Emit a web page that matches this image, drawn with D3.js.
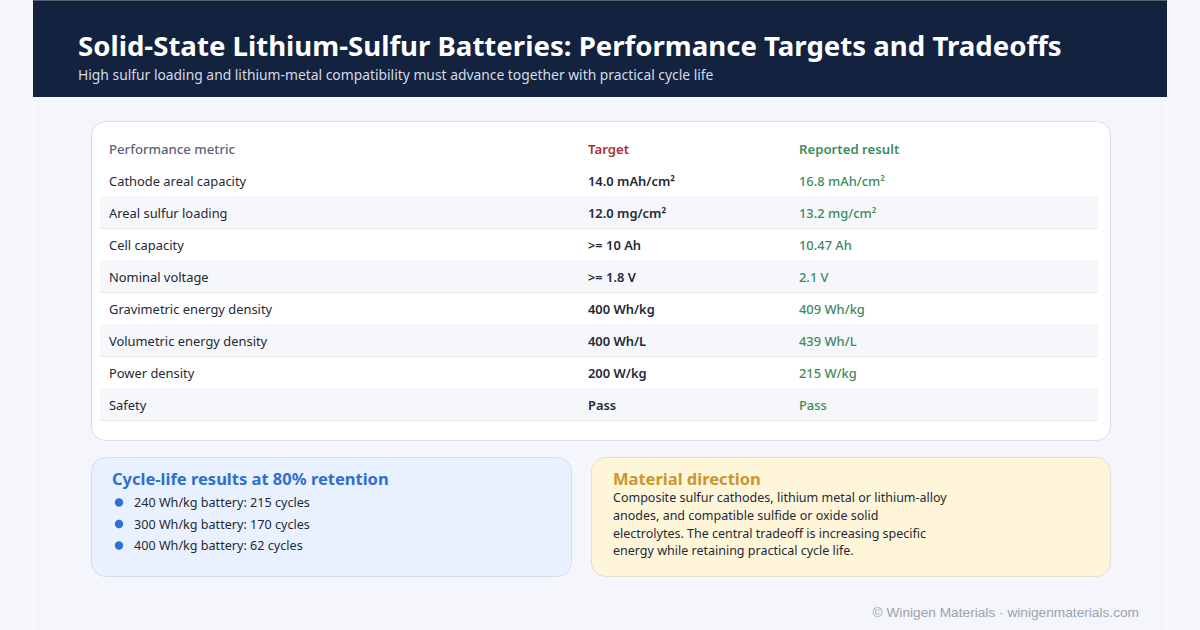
<!DOCTYPE html>
<html lang="en">
<head>
  <meta charset="UTF-8">
  <title>Solid-State Lithium-Sulfur Batteries</title>
  <style>
    body { margin: 0; background: #f4f6fb; }
    svg { display: block; font-family: "Noto Sans", "Open Sans", sans-serif; }
  </style>
</head>
<body>
  <div id="chart"></div>
  <script src="https://d3js.org/d3.v7.min.js"></script>
  <script>
    // Table data
    const metrics = [
      "Cathode areal capacity", "Areal sulfur loading", "Cell capacity", "Nominal voltage",
      "Gravimetric energy density", "Volumetric energy density", "Power density", "Safety"
    ];
    const targets = [
      "14.0 mAh/cm²", "12.0 mg/cm²", ">= 10 Ah", ">= 1.8 V",
      "400 Wh/kg", "400 Wh/L", "200 W/kg", "Pass"
    ];
    const results = [
      "16.8 mAh/cm²", "13.2 mg/cm²", "10.47 Ah", "2.1 V",
      "409 Wh/kg", "439 Wh/L", "215 W/kg", "Pass"
    ];
    const columns = ["Performance metric", "Target", "Reported result"];

    // Cycle-life items
    const cycleEnergy = [240, 300, 400];
    const cycleCounts = [215, 170, 62];

    const materialLines = [
      "Composite sulfur cathodes, lithium metal or lithium-alloy",
      "anodes, and compatible sulfide or oxide solid",
      "electrolytes. The central tradeoff is increasing specific",
      "energy while retaining practical cycle life."
    ];

    const width = 1200, height = 630;
    const svg = d3.select("#chart").append("svg")
      .attr("width", width).attr("height", height);

    // page container
    svg.append("rect").attr("width", width).attr("height", height).attr("fill", "#f4f6fb");
    svg.append("rect").attr("x", 33.5).attr("y", -1).attr("width", 1133).attr("height", height + 2)
      .attr("fill", "#f4f6fb").attr("stroke", "#ffffff");

    // header
    svg.append("rect").attr("x", 33).attr("y", 0).attr("width", 1134).attr("height", 97).attr("fill", "#13223f");
    svg.append("line").attr("x1", 33).attr("x2", 1167).attr("y1", 0.5).attr("y2", 0.5).attr("stroke", "#5a6070");
    svg.append("text").attr("x", 78).attr("y", 56)
      .attr("fill", "#ffffff").attr("font-size", 27.6).attr("font-weight", 700)
      .text("Solid-State Lithium-Sulfur Batteries: Performance Targets and Tradeoffs");
    svg.append("text").attr("x", 78).attr("y", 80)
      .attr("fill", "#d3dbe6").attr("font-size", 13.85)
      .text("High sulfur loading and lithium-metal compatibility must advance together with practical cycle life");

    // table card
    svg.append("rect").attr("x", 91.5).attr("y", 121.5).attr("width", 1019).attr("height", 319)
      .attr("rx", 14).attr("fill", "#ffffff").attr("stroke", "#d8dfea");

    const rowY = d3.scaleBand().domain(d3.range(metrics.length + 1)).range([133, 133 + 32 * 9]);
    const colX = d3.scaleOrdinal().domain([0, 1, 2]).range([109, 588, 799]);
    const headColors = ["#5b6577", "#a83232", "#3f8a5c"];
    const fs = 12.9;

    const rows = svg.append("g").selectAll("g").data(metrics).join("g")
      .attr("transform", (d, i) => `translate(0,${rowY(i + 1)})`);
    rows.append("rect").attr("x", 100).attr("width", 998).attr("height", rowY.bandwidth())
      .attr("fill", (d, i) => i % 2 ? "#f5f7fb" : "#ffffff");
    rows.append("line").attr("x1", 100).attr("x2", 1098)
      .attr("y1", rowY.bandwidth() - 0.5).attr("y2", rowY.bandwidth() - 0.5)
      .attr("stroke", (d, i) => i % 2 ? "#e3e7ee" : "#f1f3f7");

    svg.append("g").selectAll("text").data(columns).join("text")
      .attr("x", (d, i) => colX(i)).attr("y", rowY(0) + rowY.bandwidth() / 2)
      .attr("dy", "0.35em").attr("font-size", 13.2).attr("font-weight", (d, i) => i ? 600 : 500)
      .attr("fill", (d, i) => headColors[i]).text(d => d);

    rows.append("text").attr("x", colX(0)).attr("y", rowY.bandwidth() / 2).attr("dy", "0.35em")
      .attr("font-size", fs).attr("fill", "#1f2937").text(d => d);
    rows.append("text").attr("x", colX(1)).attr("y", rowY.bandwidth() / 2).attr("dy", "0.35em")
      .attr("font-size", fs).attr("font-weight", 600).attr("fill", "#1f2937").text((d, i) => targets[i]);
    rows.append("text").attr("x", colX(2)).attr("y", rowY.bandwidth() / 2).attr("dy", "0.35em")
      .attr("font-size", fs).attr("font-weight", 500).attr("fill", "#3f8a5c").text((d, i) => results[i]);

    // cycle-life card
    svg.append("rect").attr("x", 91.5).attr("y", 457.5).attr("width", 480).attr("height", 119)
      .attr("rx", 14).attr("fill", "#e8f1fd").attr("stroke", "#d3deec");
    svg.append("text").attr("x", 112).attr("y", 485).attr("font-size", 16.5).attr("font-weight", 700)
      .attr("fill", "#2f6fcf").text("Cycle-life results at 80% retention");
    const itemY = d3.scaleLinear().domain([0, 1]).range([503, 524.5]);
    const items = svg.append("g").selectAll("g").data(cycleEnergy).join("g")
      .attr("transform", (d, i) => `translate(0,${itemY(i)})`);
    items.append("circle").attr("cx", 119).attr("cy", -0.5).attr("r", 4.2).attr("fill", "#2f6fdb");
    items.append("text").attr("x", 134).attr("dy", "0.35em").attr("font-size", 12.6).attr("fill", "#1f2937")
      .text((d, i) => `${d} Wh/kg battery: ${cycleCounts[i]} cycles`);

    // material direction card
    svg.append("rect").attr("x", 591.5).attr("y", 457.5).attr("width", 519).attr("height", 119)
      .attr("rx", 14).attr("fill", "#fff6da").attr("stroke", "#e3e0d2");
    svg.append("text").attr("x", 613).attr("y", 485).attr("font-size", 16.5).attr("font-weight", 700)
      .attr("fill", "#c9962f").text("Material direction");
    svg.append("g").selectAll("text").data(materialLines).join("text")
      .attr("x", 613).attr("y", (d, i) => 498 + i * 17.7).attr("dy", "0.35em")
      .attr("font-size", 12.5).attr("fill", "#1f2937").text(d => d);

    // footer
    svg.append("text").attr("x", 1139).attr("y", 617).attr("text-anchor", "end")
      .attr("font-family", "'Liberation Sans', Arial, sans-serif").attr("font-size", 13.7)
      .attr("fill", "#9aa2ae").text("© Winigen Materials · winigenmaterials.com");
  </script>
</body>
</html>
